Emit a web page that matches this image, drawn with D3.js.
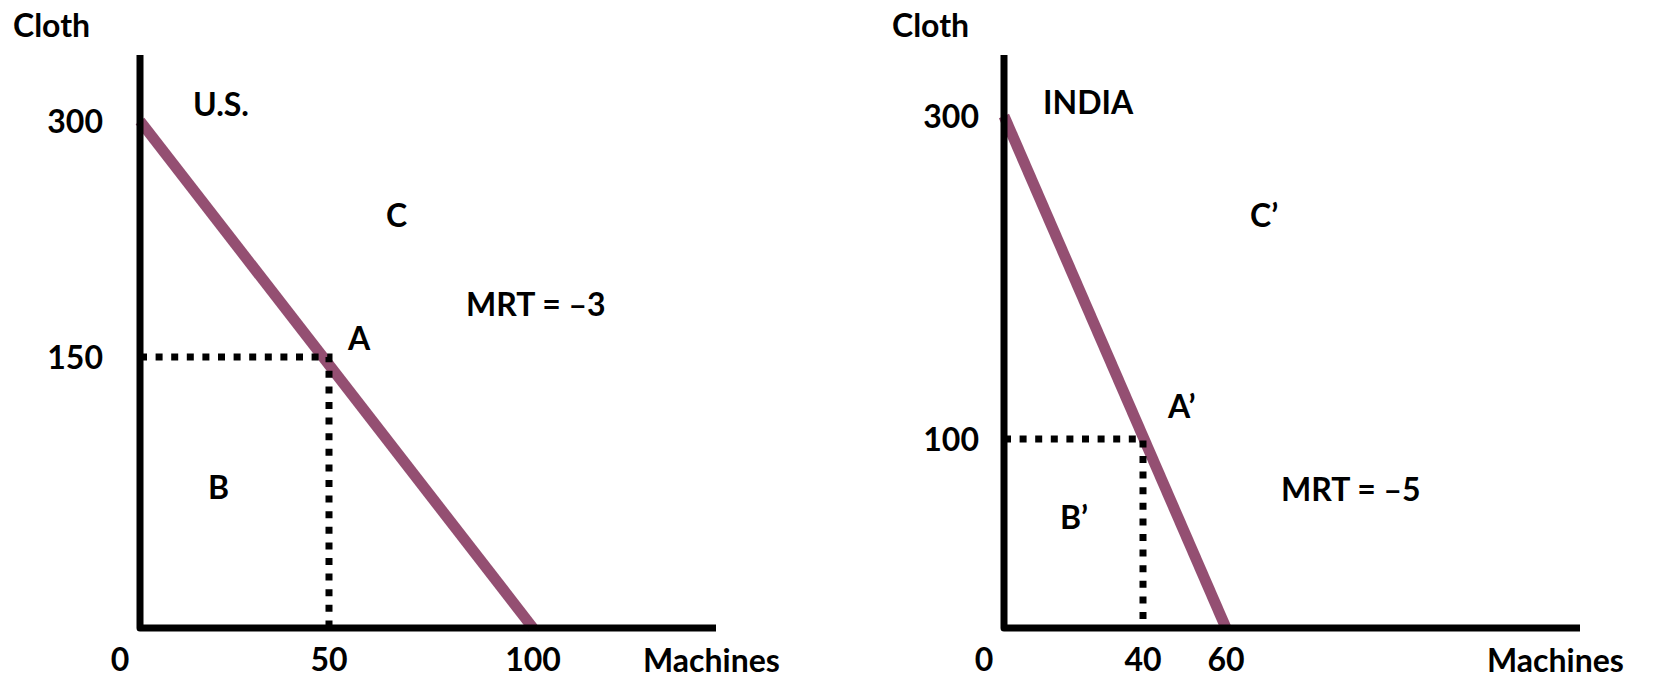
<!DOCTYPE html>
<html>
<head>
<meta charset="utf-8">
<script src="https://cdn.jsdelivr.net/npm/d3@7"></script>
<style>
  body { margin: 0; background: #fff; }
  svg text { font-family: Lato, "Open Sans", sans-serif; font-weight: 700; font-size: 32px; fill: #000; }
</style>
</head>
<body>
<svg id="chart" width="1660" height="680"></svg>
<script>
// PPF end points (machines, cloth) and the production points
const usFrontier = [[0, 300], [100, 0]];
const usPoint = [50, 150];
const usXTicks = [0, 50, 100];
const usYTicks = [150, 300];

const indiaFrontier = [[0, 300], [60, 0]];
const indiaPoint = [40, 100];
const indiaXTicks = [0, 40, 60];
const indiaYTicks = [100, 300];

const svg = d3.select("#chart");
const purple = "#944f72";

// hand drawn schematic, so the scales are piecewise
const panels = [
  {
    frontier: usFrontier, point: usPoint, xTicks: usXTicks, yTicks: usYTicks,
    x: d3.scaleLinear().domain([0, 50, 100]).range([140, 329, 533]),
    y: d3.scaleLinear().domain([0, 150, 300]).range([628, 357, 121]),
    axisLeft: 140, axisRight: 716, axisTop: 55,
    clothX: 13, machinesX: 643, tickRight: 103,
    labels: [
      { t: "U.S.", x: 193, y: 116 },
      { t: "C", x: 386, y: 227 },
      { t: "MRT = \u20133", x: 466, y: 316 },
      { t: "A", x: 348, y: 350 },
      { t: "B", x: 208, y: 499 }
    ]
  },
  {
    frontier: indiaFrontier, point: indiaPoint, xTicks: indiaXTicks, yTicks: indiaYTicks,
    x: d3.scaleLinear().domain([0, 40, 60]).range([1004, 1143, 1226]),
    y: d3.scaleLinear().domain([0, 100, 300]).range([628, 439, 116]),
    axisLeft: 1004, axisRight: 1580, axisTop: 55,
    clothX: 892, machinesX: 1487, tickRight: 979,
    labels: [
      { t: "INDIA", x: 1043, y: 114 },
      { t: "C\u2019", x: 1250, y: 227 },
      { t: "A\u2019", x: 1168, y: 418 },
      { t: "MRT = \u20135", x: 1281, y: 501 },
      { t: "B\u2019", x: 1060, y: 529 }
    ]
  }
];

panels.forEach(p => {
  const g = svg.append("g");
  const x = p.x, y = p.y;

  const line = d3.line().x(d => x(d[0])).y(d => y(d[1]));
  g.append("path")
    .attr("d", line(p.frontier))
    .attr("fill", "none")
    .attr("stroke", purple)
    .attr("stroke-width", 11);

  // dotted guides to the production point
  g.append("path")
    .attr("d", line([[0, p.point[1]], [p.point[0], p.point[1]], [p.point[0], 0]]))
    .attr("fill", "none")
    .attr("stroke", "#000")
    .attr("stroke-width", 7)
    .attr("stroke-dasharray", "7 8.6");

  // axes
  g.append("path")
    .attr("d", `M${p.axisLeft},${p.axisTop}V${y(0)}H${p.axisRight}`)
    .attr("fill", "none")
    .attr("stroke", "#000")
    .attr("stroke-width", 7)
    .attr("stroke-linejoin", "round");

  g.append("text").attr("x", p.clothX).attr("y", 37).text("Cloth");
  g.append("text").attr("x", p.machinesX).attr("y", 672).text("Machines");

  g.selectAll(".yt").data(p.yTicks).enter().append("text")
    .attr("x", p.tickRight)
    .attr("y", d => y(d) + 12)
    .attr("text-anchor", "end")
    .text(d => d);

  g.selectAll(".xt").data(p.xTicks).enter().append("text")
    .attr("x", d => d === 0 ? x(d) - 20 : x(d))
    .attr("y", 671)
    .attr("text-anchor", "middle")
    .text(d => d);

  g.selectAll(".lb").data(p.labels).enter().append("text")
    .attr("x", d => d.x)
    .attr("y", d => d.y)
    .text(d => d.t);
});
</script>
</body>
</html>
